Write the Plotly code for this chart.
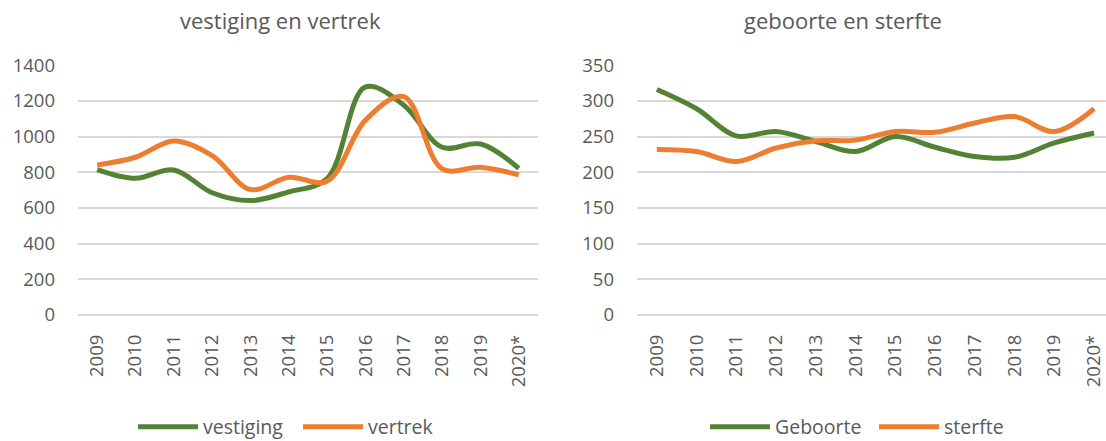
import plotly.graph_objects as go

# Years on the category axis
years = ["2009", "2010", "2011", "2012", "2013", "2014",
         "2015", "2016", "2017", "2018", "2019", "2020*"]

# Left panel: settlement and departure
vestiging = [815, 766, 813, 685, 641, 690, 765, 1278, 1176, 940, 958, 822]
vertrek = [841, 884, 975, 893, 703, 772, 750, 1092, 1224, 819, 828, 785]

# Right panel: births and deaths
geboorte = [316, 289, 251, 257, 243, 229, 250, 235, 222, 221, 241, 255]
sterfte = [232, 229, 215, 234, 244, 245, 257, 256, 269, 278, 257, 289]

left_ticks = [0, 200, 400, 600, 800, 1000, 1200, 1400]
right_ticks = [0, 50, 100, 150, 200, 250, 300, 350]

GREEN = "#548235"
ORANGE = "#ED7D31"
TEXT = "#595959"
GRID = "#d9d9d9"
FONT = "Open Sans"

W, H = 1106, 441

fig = go.Figure()

line_kw = dict(mode="lines", line_shape="spline")

fig.add_trace(go.Scatter(x=years, y=vestiging, name="vestiging",
                         line=dict(color=GREEN, width=5, smoothing=1.0),
                         xaxis="x", yaxis="y", legend="legend", **line_kw))
fig.add_trace(go.Scatter(x=years, y=vertrek, name="vertrek",
                         line=dict(color=ORANGE, width=5, smoothing=1.0),
                         xaxis="x", yaxis="y", legend="legend", **line_kw))
fig.add_trace(go.Scatter(x=years, y=geboorte, name="Geboorte",
                         line=dict(color=GREEN, width=5, smoothing=1.0),
                         xaxis="x2", yaxis="y2", legend="legend2", **line_kw))
fig.add_trace(go.Scatter(x=years, y=sterfte, name="sterfte",
                         line=dict(color=ORANGE, width=5, smoothing=1.0),
                         xaxis="x2", yaxis="y2", legend="legend2", **line_kw))

xaxis_common = dict(
    type="category", tickangle=-90, showgrid=False, zeroline=False,
    showline=False, ticks="", ticklabelstandoff=15,
    tickfont=dict(family=FONT, size=18.5, color=TEXT),
)
yaxis_common = dict(
    showgrid=True, gridcolor=GRID, gridwidth=1.5, zeroline=True,
    zerolinecolor=GRID, zerolinewidth=1.5, showline=False, ticks="",
    ticklabelstandoff=22, tickfont=dict(family=FONT, size=18.5, color=TEXT),
)

y_dom = [1 - 315 / H, 1 - 65 / H]

legend_common = dict(
    orientation="h", y=1 - 427 / H, yanchor="middle",
    font=dict(family=FONT, size=19.5, color=TEXT),
    itemwidth=60, bgcolor="rgba(0,0,0,0)",
)

fig.update_layout(
    width=W, height=H,
    margin=dict(l=0, r=0, t=0, b=0, autoexpand=False),
    paper_bgcolor="white", plot_bgcolor="white",
    font=dict(family=FONT, color=TEXT),
    xaxis=dict(domain=[78 / W, 538 / W], range=[-0.5, 11.5], **xaxis_common),
    yaxis=dict(domain=y_dom, range=[0, 1401], tickvals=left_ticks,
               anchor="x", **yaxis_common),
    xaxis2=dict(domain=[637 / W, 1.0], range=[-0.5, 11.3], anchor="y2",
                **xaxis_common),
    yaxis2=dict(domain=y_dom, range=[0, 350.25], tickvals=right_ticks,
                anchor="x2", **yaxis_common),
    legend=dict(x=133 / W, xanchor="left", entrywidth=90, **legend_common),
    legend2=dict(x=705 / W, xanchor="left", entrywidth=94, **legend_common),
    annotations=[
        dict(text="vestiging en vertrek", x=280 / W, y=1 - 20 / H,
             xref="paper", yref="paper", xanchor="center", yanchor="middle",
             showarrow=False, font=dict(family=FONT, size=22, color=TEXT)),
        dict(text="geboorte en sterfte", x=843 / W, y=1 - 20 / H,
             xref="paper", yref="paper", xanchor="center", yanchor="middle",
             showarrow=False, font=dict(family=FONT, size=22, color=TEXT)),
    ],
)

fig.write_html("out.html")
